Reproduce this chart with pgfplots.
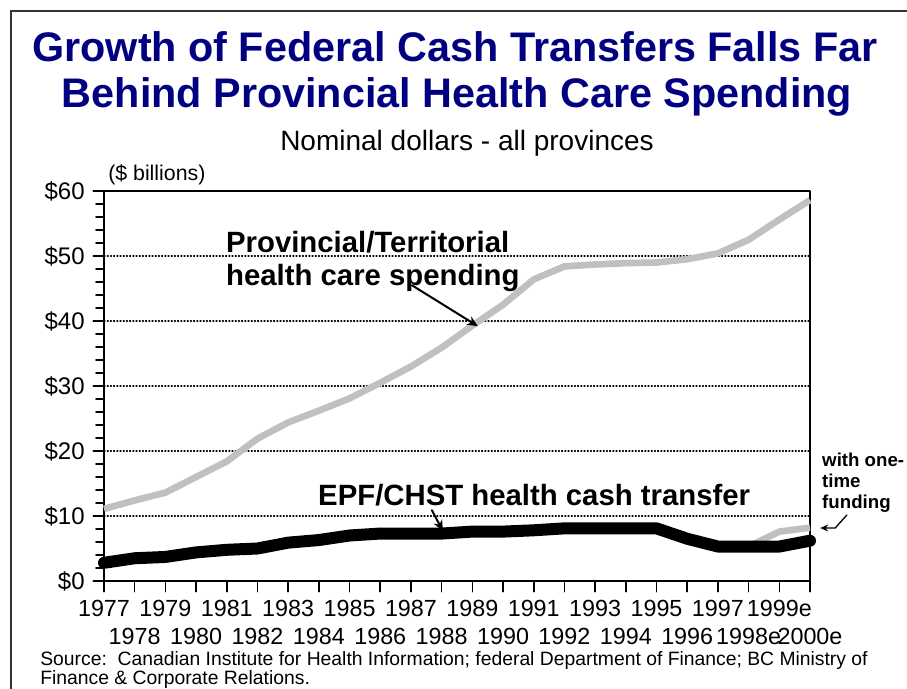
\documentclass[border=0pt]{standalone}
\usepackage{fontspec}
\setmainfont{Liberation Sans}
\usepackage{pgfplots}
\pgfplotsset{compat=1.18}
\usetikzlibrary{arrows.meta}
\definecolor{titleblue}{HTML}{000080}
\definecolor{spendgrey}{HTML}{C0C0C0}

% provincial/territorial health care spending ($ billions)
\pgfplotstableread{
year spend
1977 11.1
1978 12.4
1979 13.6
1980 16.0
1981 18.4
1982 21.9
1983 24.4
1984 26.2
1985 28.1
1986 30.5
1987 33.0
1988 35.9
1989 39.3
1990 42.5
1991 46.4
1992 48.4
1993 48.7
1994 48.9
1995 49.0
1996 49.5
1997 50.4
1998 52.5
1999 55.6
2000 58.6
}\spendtab

% EPF/CHST health cash transfer
\pgfplotstableread{
year cash
1977 2.8
1978 3.5
1979 3.7
1980 4.4
1981 4.8
1982 5.0
1983 5.9
1984 6.3
1985 7.0
1986 7.3
1987 7.3
1988 7.3
1989 7.6
1990 7.6
1991 7.8
1992 8.1
1993 8.1
1994 8.1
1995 8.1
1996 6.5
1997 5.3
1998 5.3
1999 5.3
2000 6.2
}\cashtab

% with one-time funding
\pgfplotstableread{
year cash
1998 5.3
1999 7.6
2000 8.2
}\onetimetab

\begin{document}
\begin{tikzpicture}
\path[use as bounding box] (0pt,0pt) rectangle (680.25pt,516.75pt);
\draw[line width=1.5pt, black!80] (7.9pt,-10pt) -- (7.9pt,508.5pt) -- (700pt,508.5pt);

\node[font=\bfseries\fontsize{31}{37}\selectfont, text=titleblue] at (341.25pt,481.5pt) {Growth of Federal Cash Transfers Falls Far};
\node[font=\bfseries\fontsize{31}{37}\selectfont, text=titleblue] at (342.75pt,444pt) {Behind Provincial Health Care Spending};
\node[font=\fontsize{21}{25}\selectfont] at (350.25pt,409.5pt) {Nominal dollars - all provinces};
\node[font=\fontsize{16}{18}\selectfont, anchor=west, inner sep=0pt] at (81pt,385.5pt) {(\$ billions)};

\node[font=\fontsize{14.5}{16}\selectfont, anchor=west, inner sep=0pt] at (30pt,21pt) {Source:\ \ Canadian Institute for Health Information; federal Department of Finance; BC Ministry of};
\node[font=\fontsize{14.5}{16}\selectfont, anchor=west, inner sep=0pt] at (30pt,7pt) {Finance \& Corporate Relations.};

\begin{axis}[
    at={(78pt,81pt)}, anchor=south west,
    scale only axis,
    width=529.5pt, height=292.5pt,
    xmin=1977, xmax=2000,
    ymin=0, ymax=60,
    clip=false,
    axis line style={line width=1.5pt},
    tick style={black, line width=1.2pt},
    tick align=outside,
    xtick pos=bottom, ytick pos=left,
    major tick length=8pt,
    minor tick length=6pt,
    xtick={1977,1979,...,1999},
    xticklabels={1977,1979,1981,1983,1985,1987,1989,1991,1993,1995,1997,1999e},
    extra x ticks={1978,1980,...,2000},
    extra x tick labels={1978,1980,1982,1984,1986,1988,1990,1992,1994,1996,1998e,2000e},
    extra x tick style={grid=none, xtick pos=bottom, xticklabel style={yshift=-21pt}},
    xticklabel style={font=\fontsize{17.5}{20}\selectfont, yshift=-3pt},
    ytick={0,10,...,60},
    yticklabels={\$0,\$10,\$20,\$30,\$40,\$50,\$60},
    yticklabel style={font=\fontsize{18}{20}\selectfont, xshift=-3pt},
    minor y tick num=4,
    ymajorgrids,
    major grid style={black, line width=0.8pt, dash pattern=on 0.8pt off 1.6pt},
    line cap=round, line join=round,
]
\addplot[spendgrey, line width=5pt, line cap=butt] table[x=year, y=spend] {\spendtab};
\addplot[spendgrey, line width=5pt, line cap=butt] table[x=year, y=cash] {\onetimetab};
\addplot[black, line width=9pt] table[x=year, y=cash] {\cashtab};

\node[anchor=west, align=left, inner sep=0pt, font=\bfseries\fontsize{22}{24.75}\selectfont]
  at (axis cs:1980.97,49.2) {Provincial/Territorial\\health care spending};
\draw[-{Stealth[length=8pt,width=7pt]}, line width=1.5pt] (axis cs:1987.03,45.5) -- (axis cs:1989.18,39.2);

\node[anchor=west, inner sep=0pt, font=\bfseries\fontsize{22}{24.75}\selectfont]
  at (axis cs:1983.97,13.2) {EPF/CHST health cash transfer};
\draw[-{Stealth[length=8pt,width=7pt]}, line width=1.5pt] (axis cs:1987.68,10.9) -- (axis cs:1988.04,7.7);

\node[anchor=west, align=left, inner sep=0pt, font=\bfseries\fontsize{14}{15.75}\selectfont]
  at (axis cs:2000.39,15.1) {with one-\\time\\funding};
\draw[-{Stealth[length=6pt,width=5pt]}, line width=1pt] (axis cs:2001.2,10.15) -- (axis cs:2000.82,8.15) -- (axis cs:2000.33,8.15);
\end{axis}
\end{tikzpicture}
\end{document}
